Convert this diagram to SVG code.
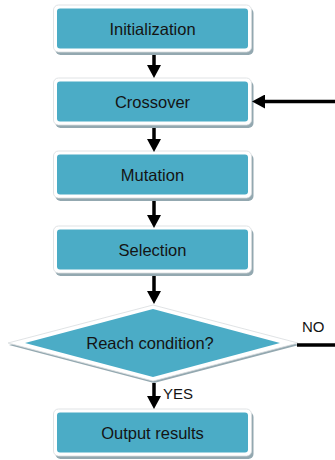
<svg xmlns="http://www.w3.org/2000/svg" width="335" height="460" viewBox="0 0 335 460">
  <defs>
    <marker id="arrow" markerUnits="userSpaceOnUse" markerWidth="14" markerHeight="14" refX="2" refY="7" orient="auto">
      <path d="M0,0 L13,7 L0,14 z" fill="#000"/>
    </marker>
  </defs>
  <style>
    .shadow { fill: #93a8b0; }
    .rim { fill: #ffffff; stroke: #d8dcde; stroke-width: 0.8; }
    .body { fill: #4bacc6; }
    .label { font-family: "Liberation Sans", Arial, sans-serif; font-size: 16.5px; fill: #141414; text-anchor: middle; dominant-baseline: central; }
    .tag { font-family: "Liberation Sans", Arial, sans-serif; font-size: 15px; fill: #141414; }
    .wire { stroke: #000; stroke-width: 3.5; fill: none; }
  </style>

  <rect width="335" height="460" fill="#ffffff"/>

  <g id="initialization">
    <rect class="shadow" x="55.5" y="8" width="198" height="47" rx="5"/>
    <rect class="rim" x="53.5" y="5" width="198" height="47" rx="5"/>
    <rect class="body" x="57" y="8.5" width="191" height="40" rx="3"/>
    <text class="label" x="152.5" y="28.5">Initialization</text>
  </g>

  <g id="crossover">
    <rect class="shadow" x="55.5" y="81" width="198" height="47" rx="5"/>
    <rect class="rim" x="53.5" y="78" width="198" height="47" rx="5"/>
    <rect class="body" x="57" y="81.5" width="191" height="40" rx="3"/>
    <text class="label" x="152.5" y="101.5">Crossover</text>
  </g>

  <g id="mutation">
    <rect class="shadow" x="55.5" y="154" width="198" height="47" rx="5"/>
    <rect class="rim" x="53.5" y="151" width="198" height="47" rx="5"/>
    <rect class="body" x="57" y="154.5" width="191" height="40" rx="3"/>
    <text class="label" x="152.5" y="174.5">Mutation</text>
  </g>

  <g id="selection">
    <rect class="shadow" x="55.5" y="229" width="198" height="47" rx="5"/>
    <rect class="rim" x="53.5" y="226" width="198" height="47" rx="5"/>
    <rect class="body" x="57" y="229.5" width="191" height="40" rx="3"/>
    <text class="label" x="152.5" y="249.5">Selection</text>
  </g>

  <g id="reach-condition">
    <polygon class="shadow" points="9,345 154,308 299,345 154,383"/>
    <polygon class="rim" points="8,343 153,305 298,343 153,381"/>
    <polygon class="body" points="25,343 153,309 280,343 153,377"/>
    <text class="label" x="150" y="343">Reach condition?</text>
  </g>

  <g id="output-results">
    <rect class="shadow" x="55.5" y="412" width="198" height="47" rx="5"/>
    <rect class="rim" x="53.5" y="409" width="198" height="47" rx="5"/>
    <rect class="body" x="57" y="412.5" width="191" height="40" rx="3"/>
    <text class="label" x="152.5" y="432.5">Output results</text>
  </g>

  <g id="connectors">
    <line class="wire" x1="154" y1="55" x2="154" y2="67" marker-end="url(#arrow)"/>
    <line class="wire" x1="154" y1="128" x2="154" y2="141" marker-end="url(#arrow)"/>
    <line class="wire" x1="154" y1="201" x2="154" y2="217" marker-end="url(#arrow)"/>
    <line class="wire" x1="154" y1="276" x2="154" y2="293" marker-end="url(#arrow)"/>
    <line class="wire" x1="154" y1="383" x2="154" y2="398" marker-end="url(#arrow)"/>
    <line class="wire" x1="335" y1="101.5" x2="263" y2="101.5" stroke-width="3" marker-end="url(#arrow)"/>
    <line class="wire" x1="297" y1="345" x2="335" y2="345"/>
    <text class="tag" x="302" y="332">NO</text>
    <text class="tag" x="163" y="399">YES</text>
  </g>
</svg>
